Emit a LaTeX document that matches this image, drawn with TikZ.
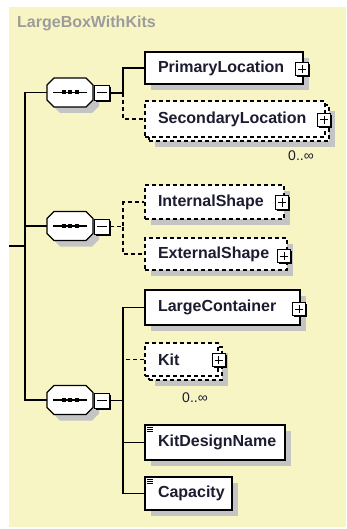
\documentclass[tikz,border=0pt]{standalone}
\usepackage{fontspec}
\setmainfont{Liberation Sans}
\usetikzlibrary{calc}
\definecolor{bgy}{HTML}{F8F5C4}
\definecolor{shgray}{HTML}{C4C4C4}
\definecolor{txt}{HTML}{1C1C30}
\definecolor{ttl}{HTML}{9C9C9C}
\tikzset{
  conn/.style={line width=1.2pt, draw=black},
  dsh/.style={dash pattern=on 4pt off 3pt},
  shadowed/.style={preaction={fill=shgray, transform canvas={shift={(6pt,-6pt)}}}},
  elbox/.style={draw=black, fill=white, line width=1.2pt, inner xsep=13pt, inner ysep=0pt,
    align=left, font=\fontsize{16}{18}\selectfont\bfseries, text=txt},
  plusbox/.style={draw=black, fill=white, line width=1pt, minimum size=13pt, inner sep=0pt,
    preaction={fill=black, transform canvas={shift={(1.5pt,-1.5pt)}}},
    path picture={
      \draw[line width=1pt] ([xshift=-4pt]path picture bounding box.center) -- ([xshift=4pt]path picture bounding box.center);
      \draw[line width=1pt] ([yshift=-4pt]path picture bounding box.center) -- ([yshift=4pt]path picture bounding box.center);}},
  minusbox/.style={draw=black, fill=white, line width=1pt, minimum size=15pt, inner sep=0pt,
    preaction={fill=black, transform canvas={shift={(1.5pt,-1.5pt)}}},
    path picture={
      \draw[line width=1pt] ([xshift=-5pt]path picture bounding box.center) -- ([xshift=5pt]path picture bounding box.center);}},
  mult/.style={font=\fontsize{14}{16}\selectfont, text=txt, inner sep=0pt},
}
\newcommand\compo[2]{%
  \begin{scope}[shift={(0,#2)}]
    \fill[shgray] (60,-8.5) -- (92,-8.5) -- (99,-1.5) -- (99,13.5) -- (92,20.5) -- (60,20.5) -- (53,13.5) -- (53,-1.5) -- cycle;
    \draw[line width=1.2pt, fill=white] (54,-14.5) -- (86,-14.5) -- (93,-7.5) -- (93,7.5) -- (86,14.5) -- (54,14.5) -- (47,7.5) -- (47,-7.5) -- cycle;
    \node[inner sep=0pt, minimum width=46pt, minimum height=29pt] (#1) at (70,0) {};
    \draw[line width=1.2pt] (53,0) -- (87,0);
    \fill (61.5,-2) rectangle (65.5,2);
    \fill (68,-2) rectangle (72,2);
    \fill (74.5,-2) rectangle (78.5,2);
    \node[minusbox] (#1m) at (102,0.5) {};
  \end{scope}}
\begin{document}
\begin{tikzpicture}[x=1pt, y=-1pt]
\useasboundingbox (0,0) rectangle (346,529);
\fill[bgy] (9,7) rectangle (346,527);
\node[anchor=west, inner sep=0pt, font=\fontsize{16}{18}\selectfont\bfseries, text=ttl] (title) at (17,23) {LargeBoxWithKits};

% compositors
\compo{c1}{92.5}
\compo{c2}{226}
\compo{c3}{400}

% element boxes
\node[elbox, shadowed, text width=132pt, minimum height=32pt] (pl) at (224,68) {PrimaryLocation};
\node[elbox, shadowed, dsh, minimum width=180pt, minimum height=36pt] (slb) at (239,123) {};
\node[elbox, dsh, text width=154pt, minimum height=36pt] (sl) at (235,119) {SecondaryLocation};
\node[elbox, shadowed, dsh, text width=113pt, minimum height=34pt] (is) at (214.5,202) {InternalShape};
\node[elbox, shadowed, dsh, text width=116pt, minimum height=32pt] (es) at (216,254) {ExternalShape};
\node[elbox, shadowed, text width=129pt, minimum height=35pt] (lc) at (222.5,307.5) {LargeContainer};
\node[elbox, shadowed, dsh, minimum width=73pt, minimum height=33pt] (kitb) at (185.5,363.5) {};
\node[elbox, dsh, text width=47pt, minimum height=33pt] (kit) at (181.5,359.5) {Kit};
\node[elbox, shadowed, text width=114pt, minimum height=35pt] (kd) at (215,442.5) {KitDesignName};
\node[elbox, shadowed, text width=61pt, minimum height=33pt] (cap) at (188.5,493.5) {Capacity};

% plus icons
\node[plusbox] (plp) at (302,69.5) {};
\node[plusbox] (slp) at (324,120) {};
\node[plusbox] (isp) at (282,202.5) {};
\node[plusbox] (esp) at (284,256) {};
\node[plusbox] (lcp) at (299,309) {};
\node[plusbox] (kitp) at (218.5,360) {};

% element text icons
\foreach \b in {kd,cap}{
  \foreach \dy in {2.5,4.5,6.5}
    \draw[line width=0.7pt] ($(\b.north west)+(3,\dy)$) -- ++(6,0);
}

% multiplicities
\node[mult] (slm) at (301,156) {0..∞};
\node[mult] (kitm) at (195,398) {0..∞};

% trunk
\coordinate (tk) at (25,0);
\coordinate (in) at (9,246);
\draw[conn] (c1.west) -- (c1.west -| tk) -- (c3.west -| tk) -- (c3.west);
\draw[conn] (c2.west) -- (c2.west -| tk);
\draw[conn] (in) -- (in -| tk);

% branches
\coordinate (br) at (123,0);
\draw[conn] (c1m.east) -- (c1m.east -| br) |- (pl.west);
\draw[conn, dsh] (c1m.east -| br) |- (sl.west);
\draw[conn, dsh] (c2m.east) -- (c2m.east -| br) |- (is.west);
\draw[conn, dsh] (c2m.east -| br) |- (es.west);
\draw[conn] (c3m.east) -- (c3m.east -| br) |- (lc.west);
\draw[conn] (c3m.east -| br) |- (kd.west);
\draw[conn] (c3m.east -| br) |- (cap.west);
\draw[conn, dsh] (kit.west) -- (kit.west -| br);
\end{tikzpicture}
\end{document}
